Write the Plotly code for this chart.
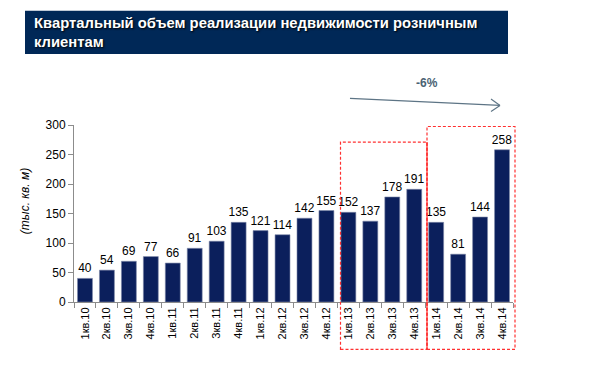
import plotly.graph_objects as go

categories = ["1кв.10", "2кв.10", "3кв.10", "4кв.10",
              "1кв.11", "2кв.11", "3кв.11", "4кв.11",
              "1кв.12", "2кв.12", "3кв.12", "4кв.12",
              "1кв.13", "2кв.13", "3кв.13", "4кв.13",
              "1кв.14", "2кв.14", "3кв.14", "4кв.14"]
values = [40, 54, 69, 77, 66, 91, 103, 135, 121, 114, 142, 155,
          152, 137, 178, 191, 135, 81, 144, 258]
y_ticks = [0, 50, 100, 150, 200, 250, 300]

OFF = 8                  # page body margin
W, H = 597 - OFF, 366 - OFF
L, R = 74 - OFF, 513 - OFF   # plot area in px (figure coords)
T, B = 125 - OFF, 301.7 - OFF

def px(x):
    return (x - OFF - L) / (R - L)

def py(y):
    return (B - (y - OFF)) / (B - T)

fig = go.Figure(go.Bar(
    x=categories, y=values,
    marker=dict(color="#0b1f5c", line=dict(color="#7d88a8", width=0.6)),
    width=0.68,
    text=[str(v) for v in values],
    textposition="outside",
    constraintext="none",
    textfont=dict(family="Arial, Liberation Sans", size=12, color="#000000"),
    cliponaxis=False,
))

shapes = []
# title bar
shapes.append(dict(type="rect", xref="paper", yref="paper",
                   x0=px(25), x1=px(508), y0=py(54), y1=py(11),
                   fillcolor="#002857", line=dict(width=0), layer="below"))
red = "#ff3030"
dash = "3px,2px"
# box 1 (dashed)
shapes.append(dict(type="rect", xref="paper", yref="paper",
                   x0=px(340.5), x1=px(427), y0=py(349), y1=py(142),
                   line=dict(color=red, width=1.2, dash=dash)))
# box 2 (dashed)
shapes.append(dict(type="rect", xref="paper", yref="paper",
                   x0=px(427), x1=px(515), y0=py(349), y1=py(126.5),
                   line=dict(color=red, width=1.2, dash=dash)))
# solid divider
shapes.append(dict(type="line", xref="paper", yref="paper",
                   x0=px(427), x1=px(427), y0=py(349), y1=py(142),
                   line=dict(color=red, width=1.2)))
# arrow
arrow_col = "#5d7485"
shapes.append(dict(type="line", xref="paper", yref="paper",
                   x0=px(350), x1=px(500), y0=py(98.5), y1=py(105.5),
                   line=dict(color=arrow_col, width=1.3)))
shapes.append(dict(type="line", xref="paper", yref="paper",
                   x0=px(491), x1=px(500), y0=py(99), y1=py(105.5),
                   line=dict(color=arrow_col, width=1.1)))
shapes.append(dict(type="line", xref="paper", yref="paper",
                   x0=px(491), x1=px(500), y0=py(111.5), y1=py(105.5),
                   line=dict(color=arrow_col, width=1.1)))

annotations = [
    dict(xref="paper", yref="paper", x=px(32), y=py(32.5), xanchor="left", yanchor="middle",
         text="Квартальный объем реализации недвижимости розничным<br>клиентам",
         align="left", showarrow=False,
         font=dict(family="Arial, Liberation Sans", size=14.8, color="white",
                   weight="bold", shadow="1px 1px 2px #000000")),
    dict(xref="paper", yref="paper", x=px(427), y=py(83), xanchor="center", yanchor="middle",
         text="<b>-6%</b>", showarrow=False,
         font=dict(family="Arial, Liberation Sans", size=12, color="#4a6272")),
    dict(xref="paper", yref="paper", x=px(25), y=py(201), xanchor="center", yanchor="middle",
         text="<i>(тыс. кв. м)</i>", textangle=-90, showarrow=False,
         font=dict(family="Arial, Liberation Sans", size=12, color="#000000")),
]

fig.update_layout(
    width=W, height=H,
    margin=dict(l=L, r=W - R, t=T, b=H - B, pad=0),
    paper_bgcolor="white", plot_bgcolor="white",
    showlegend=False,
    bargap=0.32,
    shapes=shapes, annotations=annotations,
    font=dict(family="Arial, Liberation Sans", color="#000000"),
    xaxis=dict(type="category", tickangle=-90, showgrid=False,
               showline=True, linecolor="#8c8c8c", linewidth=1,
               ticks="outside", tickson="boundaries", ticklen=5, tickcolor="#8c8c8c",
               tickfont=dict(size=11, family="Arial, Liberation Sans", color="#000000"),
               range=[-0.5, 19.5], automargin=False),
    yaxis=dict(range=[0, 300], tickvals=y_ticks, showgrid=False,
               showline=True, linecolor="#8c8c8c", linewidth=1,
               ticks="outside", ticklen=5, tickcolor="#8c8c8c",
               tickfont=dict(size=12, family="Arial, Liberation Sans", color="#000000"),
               zeroline=False, automargin=False),
)

fig.write_html("out.html")
